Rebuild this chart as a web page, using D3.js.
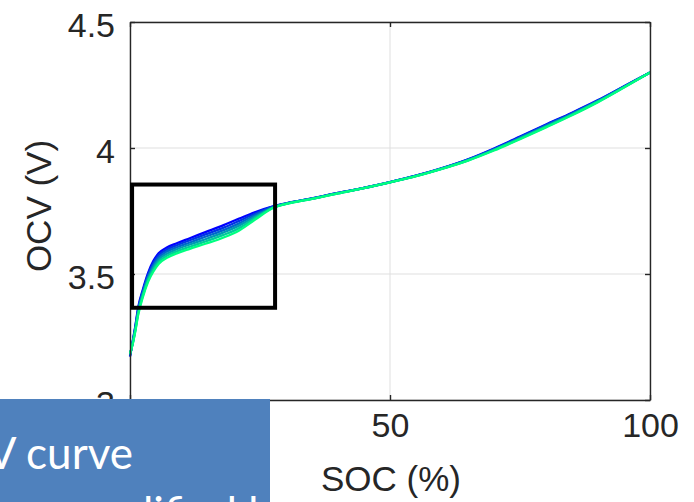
<!DOCTYPE html>
<html>
<head>
<meta charset="utf-8">
<script src="https://cdn.jsdelivr.net/npm/d3@7/dist/d3.min.js"></script>
<style>
  html, body { margin: 0; padding: 0; background: #ffffff; }
  svg { display: block; }
</style>
</head>
<body>
<svg id="chart" width="694" height="502"></svg>
<script>
// ---------- data ----------
const soc = [0, 0.5, 1, 1.6, 2.5, 3.5, 4.5, 5.5, 7, 9, 11.5, 14.5, 18, 21, 24, 27.5, 31, 35, 40, 45, 50, 55, 60, 65, 70, 75, 80, 85, 90, 95, 100];

const ocv1 = [3.172, 3.230, 3.290, 3.370, 3.440, 3.505, 3.552, 3.582, 3.604, 3.622, 3.642, 3.666, 3.694, 3.720, 3.745, 3.768, 3.785, 3.800, 3.822, 3.842, 3.865, 3.890, 3.920, 3.955, 3.998, 4.045, 4.093, 4.140, 4.190, 4.245, 4.300];
const ocv2 = [3.175, 3.228, 3.286, 3.364, 3.434, 3.498, 3.544, 3.574, 3.596, 3.614, 3.634, 3.657, 3.684, 3.711, 3.739, 3.767, 3.784, 3.800, 3.822, 3.842, 3.865, 3.890, 3.919, 3.954, 3.996, 4.043, 4.091, 4.138, 4.188, 4.244, 4.300];
const ocv3 = [3.177, 3.226, 3.282, 3.358, 3.428, 3.491, 3.535, 3.565, 3.588, 3.606, 3.625, 3.648, 3.674, 3.701, 3.733, 3.766, 3.784, 3.799, 3.821, 3.842, 3.865, 3.889, 3.919, 3.953, 3.995, 4.041, 4.089, 4.136, 4.187, 4.243, 4.300];
const ocv4 = [3.180, 3.224, 3.278, 3.352, 3.422, 3.484, 3.527, 3.557, 3.579, 3.598, 3.617, 3.638, 3.665, 3.692, 3.727, 3.764, 3.783, 3.799, 3.821, 3.841, 3.864, 3.889, 3.918, 3.952, 3.993, 4.039, 4.086, 4.134, 4.185, 4.242, 4.300];
const ocv5 = [3.182, 3.222, 3.274, 3.346, 3.416, 3.477, 3.518, 3.548, 3.571, 3.590, 3.608, 3.629, 3.655, 3.682, 3.721, 3.763, 3.783, 3.798, 3.820, 3.841, 3.864, 3.888, 3.918, 3.951, 3.992, 4.037, 4.084, 4.132, 4.184, 4.241, 4.300];
const ocv6 = [3.185, 3.220, 3.270, 3.340, 3.410, 3.470, 3.510, 3.540, 3.563, 3.582, 3.600, 3.620, 3.645, 3.673, 3.715, 3.762, 3.782, 3.798, 3.820, 3.841, 3.864, 3.888, 3.917, 3.950, 3.990, 4.035, 4.082, 4.130, 4.182, 4.240, 4.300];

const seriesList = [ocv1, ocv2, ocv3, ocv4, ocv5, ocv6];
const seriesColors = ["#0000ff", "#0033e6", "#0066cc", "#0099b3", "#00cc99", "#00ff80"];

const xTicks = [0, 50, 100];
const yTicks = [3, 3.5, 4, 4.5];
const xLabel = "SOC (%)";
const yLabel = "OCV (V)";

// highlighted region (SOC range, OCV range)
const boxSoc = [0.4, 27.9];
const boxOcv = [3.366, 3.855];

const calloutLines = ["OCV curve", "amplified by"];

// ---------- layout ----------
const svg = d3.select("#chart");
const L = 130, R = 650, T = 22, B = 400;
const axisColor = "#262626";
const gridColor = "#dfdfdf";

const x = d3.scaleLinear().domain([0, 100]).range([L, R]);
const y = d3.scaleLinear().domain([3, 4.5]).range([B, T]);

// grid
const grid = svg.append("g");
grid.selectAll(".gx").data(xTicks).join("line")
  .attr("x1", d => x(d)).attr("x2", d => x(d)).attr("y1", T).attr("y2", B)
  .attr("stroke", gridColor).attr("stroke-width", 1);
grid.selectAll(".gy").data(yTicks).join("line")
  .attr("x1", L).attr("x2", R).attr("y1", d => y(d)).attr("y2", d => y(d))
  .attr("stroke", gridColor).attr("stroke-width", 1);

// curves
const line = d3.line().x((d, i) => x(soc[i])).y(d => y(d)).curve(d3.curveMonotoneX);
svg.append("g").selectAll("path").data(seriesList).join("path")
  .attr("d", d => line(d))
  .attr("fill", "none")
  .attr("stroke", (d, i) => seriesColors[i])
  .attr("stroke-width", 2.3)
  .attr("stroke-linejoin", "round");

// axes (box style with inward ticks)
const tickLen = 5;
const fontTicks = "34px 'Liberation Sans', Arial, sans-serif";

const axB = svg.append("g").attr("transform", `translate(0,${B})`)
  .call(d3.axisBottom(x).tickValues(xTicks).tickFormat(d3.format("d")).tickSizeInner(-tickLen).tickSizeOuter(0).tickPadding(13));
const axT = svg.append("g").attr("transform", `translate(0,${T})`)
  .call(d3.axisTop(x).tickValues(xTicks).tickFormat("").tickSizeInner(-tickLen).tickSizeOuter(0));
const axL = svg.append("g").attr("transform", `translate(${L},0)`)
  .call(d3.axisLeft(y).tickValues(yTicks).tickFormat(d => d3.format("")(d)).tickSizeInner(-tickLen).tickSizeOuter(0).tickPadding(15));
const axR = svg.append("g").attr("transform", `translate(${R},0)`)
  .call(d3.axisRight(y).tickValues(yTicks).tickFormat("").tickSizeInner(-tickLen).tickSizeOuter(0));

[axB, axT, axL, axR].forEach(a => {
  a.select(".domain").attr("stroke", axisColor).attr("stroke-width", 1.4);
  a.selectAll(".tick line").attr("stroke", axisColor).attr("stroke-width", 1.4);
  a.selectAll(".tick text").attr("fill", axisColor).style("font", fontTicks);
});
axB.selectAll(".tick text").attr("dy", "0.71em");
axL.selectAll(".tick text").attr("dy", "0.42em");

// axis labels
svg.append("text")
  .attr("x", 391).attr("y", 491)
  .attr("text-anchor", "middle")
  .attr("fill", axisColor)
  .style("font", "35px 'Liberation Sans', Arial, sans-serif")
  .text(xLabel);
svg.append("text")
  .attr("transform", "translate(51,206) rotate(-90)")
  .attr("text-anchor", "middle")
  .attr("fill", axisColor)
  .style("font", "35px 'Liberation Sans', Arial, sans-serif")
  .text(yLabel);

// highlight box
svg.append("rect")
  .attr("x", x(boxSoc[0])).attr("y", y(boxOcv[1]))
  .attr("width", x(boxSoc[1]) - x(boxSoc[0]))
  .attr("height", y(boxOcv[0]) - y(boxOcv[1]))
  .attr("fill", "none").attr("stroke", "#000000").attr("stroke-width", 4);

// callout box (overlapping slide shape)
const calloutFont = "44px Lato, 'Open Sans', sans-serif";
const callout = svg.append("g");
callout.append("rect")
  .attr("x", 0).attr("y", 399).attr("width", 270).attr("height", 110)
  .attr("fill", "#4f81bd");
callout.append("text")
  .attr("x", 133).attr("y", 469)
  .attr("text-anchor", "end")
  .attr("fill", "#ffffff")
  .style("font", calloutFont)
  .text(calloutLines[0]);
const line2 = callout.append("text")
  .attr("x", 0).attr("y", 529)
  .attr("fill", "#ffffff")
  .style("font", calloutFont)
  .text(calloutLines[1]);
// place so that the "l" of the second line starts near x = 143
const prefixW = line2.node().getSubStringLength(0, 3);
line2.attr("x", 143 - prefixW);
</script>
</body>
</html>
